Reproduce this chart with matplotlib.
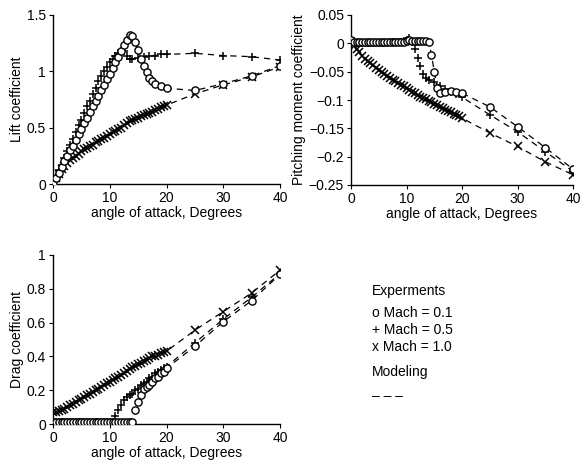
import matplotlib
matplotlib.use("Agg")
import matplotlib.pyplot as plt
import numpy as np

plt.rcParams['font.family'] = ['Liberation Sans', 'DejaVu Sans']
plt.rcParams['font.size'] = 10

# ---------------- data ----------------
dense14 = [0, 0.5, 1, 1.5, 2, 2.5, 3, 3.5, 4, 4.5, 5, 5.5, 6, 6.5, 7, 7.5, 8, 8.5, 9, 9.5,
           10, 10.5, 11, 11.5, 12, 12.5, 13, 13.5, 14]
dense20 = dense14 + [14.5, 15, 15.5, 16, 16.5, 17, 17.5, 18, 18.5, 19, 19.5, 20]
sparse = [25, 30, 35, 40]

# Lift coefficient
alpha_cl_m01 = dense14 + [14.5, 15, 15.5, 16, 16.5, 17, 17.5, 18, 19, 20] + sparse
cl_m01 = [0, 0.05, 0.10, 0.15, 0.20, 0.25, 0.30, 0.34, 0.39, 0.44, 0.49, 0.54, 0.59, 0.64,
          0.69, 0.74, 0.78, 0.83, 0.88, 0.93, 0.98, 1.03, 1.08, 1.13, 1.18, 1.23, 1.28, 1.32,
          1.31, 1.26, 1.19, 1.11, 1.05, 0.99, 0.94, 0.91, 0.89, 0.87, 0.85,
          0.83, 0.89, 0.96, 1.05]
alpha_cl_m05 = dense14 + [15, 16, 17, 18, 19, 20] + sparse
cl_m05 = [0, 0.06, 0.12, 0.17, 0.23, 0.29, 0.35, 0.40, 0.46, 0.52, 0.57, 0.63, 0.69, 0.74,
          0.80, 0.85, 0.91, 0.96, 1.00, 1.04, 1.08, 1.11, 1.14, 1.16, 1.18, 1.18, 1.14, 1.11,
          1.11, 1.12, 1.13, 1.14, 1.14, 1.15, 1.15, 1.16, 1.14, 1.13, 1.10]
alpha_cl_m10 = dense20 + sparse
cl_m10 = [0, 0.05, 0.09, 0.13, 0.16, 0.19, 0.21, 0.23, 0.25, 0.27, 0.29, 0.31, 0.32, 0.34,
          0.35, 0.37, 0.38, 0.40, 0.41, 0.43, 0.44, 0.46, 0.47, 0.49, 0.50, 0.52, 0.54, 0.56,
          0.57, 0.58, 0.59, 0.60, 0.61, 0.62, 0.63, 0.64, 0.66, 0.67, 0.68, 0.69, 0.70,
          0.80, 0.88, 0.95, 1.04]

# Pitching moment coefficient
alpha_cm_m01 = dense14 + [14.5, 15, 15.5, 16, 17, 18, 19, 20] + sparse
cm_m01 = [0.005, 0.003, 0.002, 0.002, 0.002, 0.002, 0.002, 0.002, 0.002, 0.002, 0.002,
          0.002, 0.002, 0.002, 0.002, 0.002, 0.003, 0.003, 0.003, 0.003, 0.004, 0.006,
          0.004, 0.004, 0.004, 0.004, 0.004, 0.004, 0.003,
          -0.020, -0.050, -0.078, -0.088, -0.086, -0.084, -0.086, -0.088,
          -0.112, -0.147, -0.184, -0.222]
alpha_cm_m05 = dense14 + [15, 16, 17, 18, 19, 20] + sparse
cm_m05 = [0.010, 0.003, 0.001, 0.001, 0.001, 0.001, 0.001, 0.001, 0.001, 0.001, 0.001,
          0.001, 0.001, 0.001, 0.002, 0.002, 0.002, 0.002, 0.003, 0.004, 0.006, 0.009,
          0.003, -0.010, -0.026, -0.040, -0.055, -0.062, -0.065,
          -0.068, -0.075, -0.080, -0.085, -0.090, -0.095,
          -0.126, -0.156, -0.191, -0.226]
alpha_cm_m10 = dense20 + sparse
cm_m10 = [0.000, -0.005, -0.010, -0.016, -0.022, -0.027, -0.031, -0.035, -0.039, -0.043,
          -0.047, -0.050, -0.054, -0.057, -0.061, -0.064, -0.067, -0.070, -0.073, -0.076,
          -0.079, -0.082, -0.085, -0.088, -0.091, -0.094, -0.097, -0.099, -0.102, -0.104,
          -0.107, -0.109, -0.112, -0.114, -0.117, -0.119, -0.122, -0.124, -0.127, -0.129,
          -0.132, -0.158, -0.182, -0.209, -0.232]

# Drag coefficient
alpha_cd_m01 = dense20 + sparse
cd_m01 = [0.01] * 29 + [0.08, 0.13, 0.17, 0.21, 0.22, 0.23, 0.25, 0.27, 0.28, 0.30, 0.31,
                        0.33, 0.46, 0.605, 0.73, 0.885]
alpha_cd_m05 = dense20 + sparse
cd_m05 = [0.01] * 22 + [0.05, 0.08, 0.11, 0.14, 0.16, 0.17, 0.18, 0.20, 0.21, 0.23, 0.24,
                        0.25, 0.27, 0.28, 0.30, 0.31, 0.32, 0.33, 0.34,
                        0.48, 0.62, 0.75, 0.89]
alpha_cd_m10 = dense20 + sparse
cd_m10 = [0.07, 0.07, 0.075, 0.08, 0.09, 0.10, 0.11, 0.12, 0.13, 0.14, 0.15, 0.16, 0.17,
          0.18, 0.19, 0.20, 0.21, 0.22, 0.23, 0.24, 0.25, 0.26, 0.27, 0.28, 0.29, 0.30,
          0.315, 0.325, 0.335, 0.345, 0.355, 0.36, 0.37, 0.38, 0.39, 0.40, 0.405, 0.41,
          0.42, 0.425, 0.43, 0.555, 0.665, 0.775, 0.91]

x_ticks = [0, 10, 20, 30, 40]
cl_ticks = [0, 0.5, 1, 1.5]
cl_labels = ["0", "0.5", "1", "1.5"]
cm_ticks = [-0.25, -0.2, -0.15, -0.1, -0.05, 0, 0.05]
cm_labels = ["\u22120.25", "\u22120.2", "\u22120.15", "\u22120.1", "\u22120.05", "0", "0.05"]
cd_ticks = [0, 0.2, 0.4, 0.6, 0.8, 1]
cd_labels = ["0", "0.2", "0.4", "0.6", "0.8", "1"]

legend_lines = ["Experments", "o Mach = 0.1", "+ Mach = 0.5", "x Mach = 1.0", "Modeling", "\u2013 \u2013 \u2013"]

# ---------------- figure ----------------
fig = plt.figure(figsize=(5.84, 4.71), dpi=100)
W, H = 584, 471


def add_ax(x0, x1, y0, y1):
    return fig.add_axes([x0 / W, 1 - y1 / H, (x1 - x0) / W, (y1 - y0) / H])


ax1 = add_ax(53, 280, 15, 184)
ax2 = add_ax(351, 573, 15, 185)
ax3 = add_ax(53, 280, 255, 424)


def draw(ax, series):
    for a, v, m in series:
        a = np.asarray(a)
        v = np.asarray(v)
        sel = a >= 13.5
        ax.plot(a[sel], v[sel], ls=(0, (5, 4)), color='black', lw=0.9, zorder=1)
        if m == 'o':
            ax.plot(a, v, ls='none', marker='o', ms=5.2, mfc='white', mec='black', mew=1.0, zorder=3)
        else:
            ax.plot(a, v, ls='none', marker=m, ms=6.2, mec='black', mew=1.1, zorder=2)


draw(ax1, [(alpha_cl_m01, cl_m01, 'o'), (alpha_cl_m05, cl_m05, '+'), (alpha_cl_m10, cl_m10, 'x')])
draw(ax2, [(alpha_cm_m01, cm_m01, 'o'), (alpha_cm_m05, cm_m05, '+'), (alpha_cm_m10, cm_m10, 'x')])
draw(ax3, [(alpha_cd_m01, cd_m01, 'o'), (alpha_cd_m05, cd_m05, '+'), (alpha_cd_m10, cd_m10, 'x')])

for ax, yt, yl, lim, lab in [
        (ax1, cl_ticks, cl_labels, (0, 1.5), "Lift coefficient"),
        (ax2, cm_ticks, cm_labels, (-0.25, 0.05), "Pitching moment coefficient"),
        (ax3, cd_ticks, cd_labels, (0, 1), "Drag coefficient")]:
    ax.set_xlim(0, 40)
    ax.set_ylim(*lim)
    ax.set_xticks(x_ticks)
    ax.set_xticklabels([str(t) for t in x_ticks])
    ax.set_yticks(yt)
    ax.set_yticklabels(yl)
    ax.spines['top'].set_visible(False)
    ax.spines['right'].set_visible(False)
    ax.spines['left'].set_linewidth(1.0)
    ax.spines['bottom'].set_linewidth(1.0)
    ax.tick_params(direction='out', length=3, width=0.8, labelsize=10, pad=2)
    ax.set_xlabel("angle of attack, Degrees", fontsize=10, labelpad=1)
    ax.set_ylabel(lab, fontsize=10, labelpad=2)
    ax.patch.set_visible(False)
    for s in ax.spines.values():
        s.set_clip_on(False)

ys = [291, 313, 330, 347, 372, 396]
for txt, y in zip(legend_lines, ys):
    fig.text(372 / W, 1 - y / H, txt, fontsize=10, va='center', ha='left')

fig.savefig("out.png", dpi=100)
